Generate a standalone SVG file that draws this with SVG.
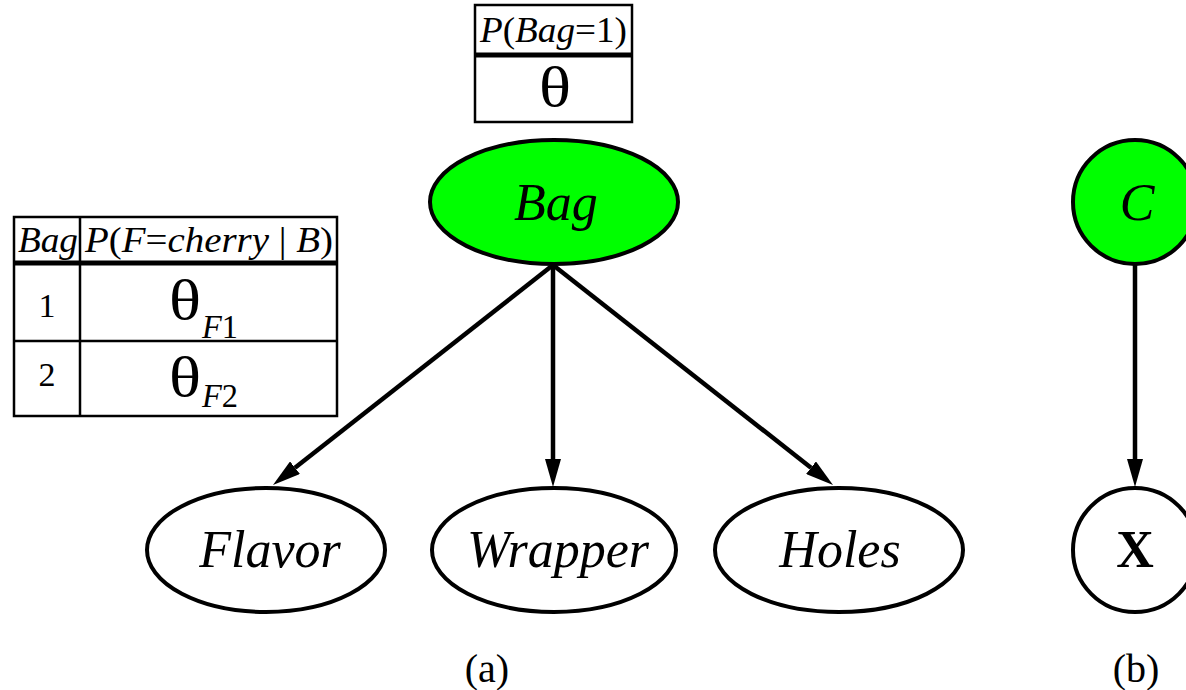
<svg xmlns="http://www.w3.org/2000/svg" width="1186" height="690" viewBox="0 0 1186 690">
<style>
  .t { font-family: "Liberation Serif", "Times New Roman", serif; fill: #000; }
  .i { font-style: italic; }
  .node { stroke: #000; stroke-width: 4; }
  .green { fill: #00ff00; }
  .white { fill: #fff; }
  .lbl { font-size: 52px; text-anchor: middle; }
  .edge { stroke: #000; stroke-width: 4.5; fill: none; }
  .tbl { fill: #fff; stroke: #000; stroke-width: 2.5; }
  .sep { stroke: #000; stroke-width: 5; }
  .ln { stroke: #000; stroke-width: 2.5; }
  .hdr { font-size: 35px; }
  .th { font-size: 58px; }
  .sub { font-size: 34px; font-style: italic; }
  .num { font-size: 34px; text-anchor: middle; }
  .cap { font-size: 40px; text-anchor: middle; }
</style>
<defs>
  <marker id="ah" viewBox="0 0 28 16" markerWidth="28" markerHeight="16" refX="0" refY="8" markerUnits="userSpaceOnUse" orient="auto">
    <path d="M0,0 L28,8 L0,16 Z" fill="#000"/>
  </marker>
</defs>

<g id="table-bag">
  <rect class="tbl" x="475" y="5" width="157" height="117"/>
  <line class="sep" x1="475" y1="55" x2="632" y2="55"/>
  <text class="t hdr" x="480" y="42" textLength="147" lengthAdjust="spacingAndGlyphs"><tspan class="i">P</tspan>(<tspan class="i">Bag</tspan>=1)</text>
  <text class="t th" x="539" y="106" textLength="32" lengthAdjust="spacingAndGlyphs">θ</text>
</g>

<g id="table-flavor">
  <rect class="tbl" x="14" y="217" width="323" height="199"/>
  <line class="ln" x1="80" y1="217" x2="80" y2="416"/>
  <line class="sep" x1="14" y1="263" x2="337" y2="263"/>
  <line class="ln" x1="14" y1="341" x2="337" y2="341"/>
  <text class="t hdr i" x="18" y="252" textLength="60" lengthAdjust="spacingAndGlyphs">Bag</text>
  <text class="t hdr" x="85" y="252" textLength="248" lengthAdjust="spacingAndGlyphs"><tspan class="i">P</tspan>(<tspan class="i">F</tspan>=<tspan class="i">cherry</tspan> | <tspan class="i">B</tspan>)</text>
  <text class="t num" x="47" y="317">1</text>
  <text class="t num" x="47" y="386">2</text>
  <text class="t th" x="169" y="319" textLength="32" lengthAdjust="spacingAndGlyphs">θ</text>
  <text class="t sub" x="202" y="338" textLength="36" lengthAdjust="spacingAndGlyphs">F<tspan font-style="normal">1</tspan></text>
  <text class="t th" x="169" y="396" textLength="32" lengthAdjust="spacingAndGlyphs">θ</text>
  <text class="t sub" x="202" y="407" textLength="36" lengthAdjust="spacingAndGlyphs">F<tspan font-style="normal">2</tspan></text>
</g>

<g id="connectors">
  <line class="edge" x1="553" y1="265" x2="295" y2="467.7" marker-end="url(#ah)"/>
  <line class="edge" x1="553" y1="265" x2="553" y2="459" marker-end="url(#ah)"/>
  <line class="edge" x1="553" y1="265" x2="811" y2="467.7" marker-end="url(#ah)"/>
  <line class="edge" x1="1135" y1="265" x2="1135" y2="459" marker-end="url(#ah)"/>
</g>

<g id="node-bag">
  <ellipse class="node green" cx="554" cy="202" rx="124" ry="62"/>
  <text class="t lbl i" x="556" y="220">Bag</text>
</g>
<g id="node-flavor">
  <ellipse class="node white" cx="266" cy="550" rx="119" ry="62"/>
  <text class="t lbl i" x="270" y="567">Flavor</text>
</g>
<g id="node-wrapper">
  <ellipse class="node white" cx="554" cy="550" rx="122" ry="62"/>
  <text class="t lbl i" x="558" y="567">Wrapper</text>
</g>
<g id="node-holes">
  <ellipse class="node white" cx="839" cy="550" rx="124" ry="62"/>
  <text class="t lbl i" x="840" y="567">Holes</text>
</g>
<g id="node-c">
  <circle class="node green" cx="1135" cy="202" r="62"/>
  <text class="t lbl i" x="1137" y="220">C</text>
</g>
<g id="node-x">
  <circle class="node white" cx="1135" cy="550" r="62"/>
  <text class="t lbl" font-weight="bold" x="1135" y="567">X</text>
</g>

<text class="t cap" x="487" y="682">(a)</text>
<text class="t cap" x="1136" y="682">(b)</text>
</svg>
